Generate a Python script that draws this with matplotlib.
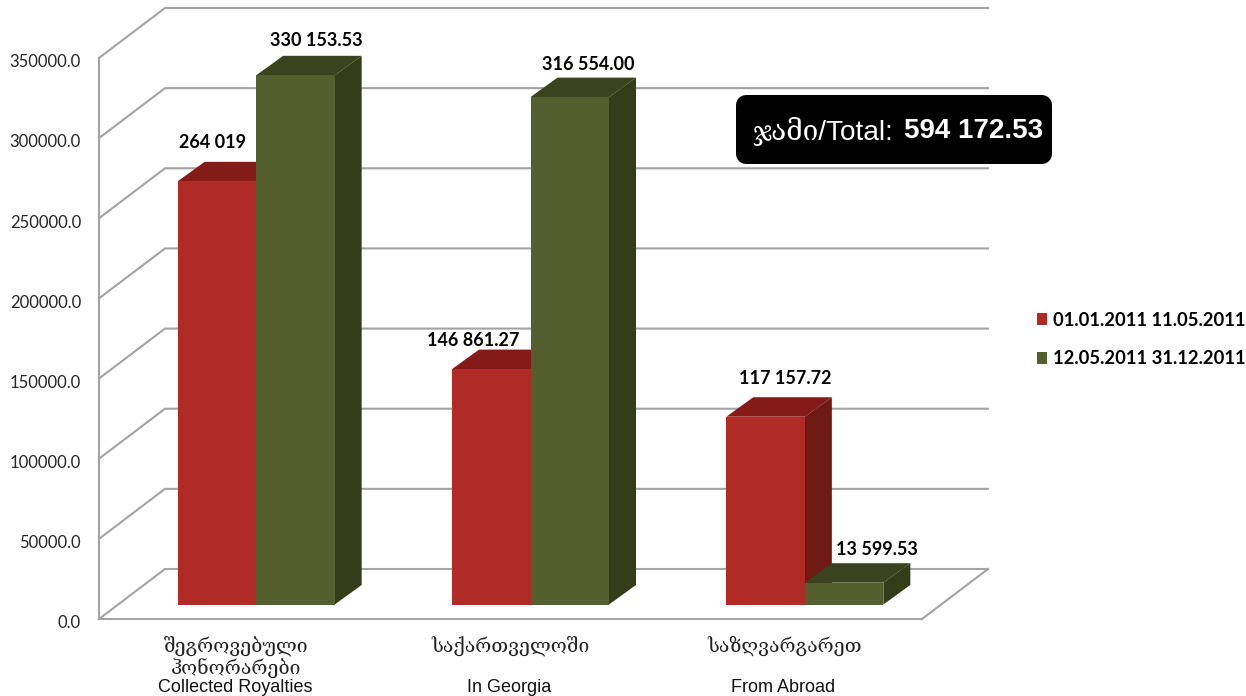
import matplotlib
matplotlib.use('Agg')
import matplotlib.pyplot as plt
from matplotlib.patches import FancyBboxPatch
from matplotlib.transforms import ScaledTranslation

# data
categories_ka = ['შეგროვებული\nჰონორარები', 'საქართველოში', 'საზღვარგარეთ']
categories_en = ['Collected Royalties', 'In Georgia', 'From Abroad']
period1 = [264019, 146861.27, 117157.72]
period2 = [330153.53, 316554.00, 13599.53]
period1_labels = ['264 019', '146 861.27', '117 157.72']
period2_labels = ['330 153.53', '316 554.00', '13 599.53']
series_names = ['01.01.2011 11.05.2011', '12.05.2011 31.12.2011']
yticks = [0, 50000, 100000, 150000, 200000, 250000, 300000, 350000]
total_ka = 'ჯამი/Total:'
total_value = '594 172.53'

W, H = 1246, 696
fig = plt.figure(figsize=(W / 100, H / 100), dpi=100)
ax = fig.add_axes([99 / W, 1 - 619 / H, 823 / W, 561 / H])
ax.set_xlim(-0.5, 2.5)
ax.set_ylim(0, 350000)

# pixel sizes converted to data units
ux = 3 / 823
uy = 350000 / 561
depth_x, depth_y = 66 * ux, 50 * uy      # wall depth
bar_dx, bar_dy = 20 * ux, 14.5 * uy      # bar front plane behind axis plane
bar_px, bar_py = 27 * ux, 19.5 * uy      # bar depth
bw = 78.5 * ux

GRID = '#a3a3a3'
x0, x1 = ax.get_xlim()
for v in yticks:
    ax.plot([x0, x0 + depth_x, x1 + depth_x], [v, v + depth_y, v + depth_y],
            color=GRID, lw=1.5, clip_on=False, zorder=1, solid_joinstyle='miter')
ax.plot([x1, x1 + depth_x], [0, depth_y], color=GRID, lw=1.5, clip_on=False, zorder=1)


def bar3d(left, val, front, top, side, z, name):
    # left = left edge of front face
    b = ax.bar(left, val, width=bw, bottom=bar_dy, align='edge', color=front,
               clip_on=False, zorder=z + 0.2, label=name, linewidth=0)
    yb, yt = bar_dy, bar_dy + val
    r = left + bw
    ax.fill([left, r, r + bar_px, left + bar_px], [yt, yt, yt + bar_py, yt + bar_py],
            color=top, clip_on=False, zorder=z, linewidth=0)
    ax.fill([r, r + bar_px, r + bar_px, r], [yb, yb + bar_py, yt + bar_py, yt],
            color=side, clip_on=False, zorder=z + 0.1, linewidth=0)
    return b


RED = ('#b02a26', '#841b18', '#6f1a12')
GREEN = ('#545e2f', '#3a431d', '#353c1a')
offs1 = [(-4, 39), (-18, 29), (20, 38)]
offs2 = [(20.5, 35), (18.5, 33), (32.5, 33)]
LABEL_FONT = 'Lato'

for i in range(3):
    cx = i + bar_dx
    bar3d(cx - bw, period1[i], *RED, 3 + i * 0.01, series_names[0] if i == 0 else None)
    bar3d(cx, period2[i], *GREEN, 4 + i * 0.01, series_names[1] if i == 0 else None)
    ax.annotate(period1_labels[i], (cx - bw / 2, period1[i] + bar_dy),
                xytext=(offs1[i][0] * 0.72, offs1[i][1] * 0.72), textcoords='offset points',
                ha='center', va='center', fontsize=13, fontweight='bold',
                family=LABEL_FONT, color='#000000', zorder=10, annotation_clip=False)
    ax.annotate(period2_labels[i], (cx + bw / 2, period2[i] + bar_dy),
                xytext=(offs2[i][0] * 0.72, offs2[i][1] * 0.72), textcoords='offset points',
                ha='center', va='center', fontsize=13, fontweight='bold',
                family=LABEL_FONT, color='#000000', zorder=10, annotation_clip=False)

# axes
for s in ['top', 'right']:
    ax.spines[s].set_visible(False)
for s in ['left', 'bottom']:
    ax.spines[s].set_color(GRID)
    ax.spines[s].set_linewidth(1.5)
ax.patch.set_alpha(0)
ax.set_yticks(yticks)
ax.set_yticklabels([f'{v:.1f}' for v in yticks], fontsize=12, family='Lato', color='#262626')
ax.tick_params(axis='y', length=0, pad=13)
ax.set_xticks(range(3))
ax.set_xticklabels([''] * 3)
ax.tick_params(axis='x', length=0)
for lab in ax.get_yticklabels():
    lab.set_transform(lab.get_transform() + ScaledTranslation(0, -2 / 72, fig.dpi_scale_trans))

# category labels, georgian then english
for i in range(3):
    ax.annotate(categories_ka[i], (i, 0), xytext=(0, -12), textcoords='offset points',
                ha='center', va='top', fontsize=14, family='DejaVu Serif', color='#222222',
                linespacing=1.2, annotation_clip=False)
    ax.annotate(categories_en[i], (i, 0), xytext=(-1, -49.5), textcoords='offset points',
                ha='center', va='center', fontsize=13, family='Liberation Sans', color='#111111',
                annotation_clip=False)

# total box
box = FancyBboxPatch((746 / W, 1 - 154 / H), 296 / W, 49 / H,
                     boxstyle='round,pad=0,rounding_size=0', transform=fig.transFigure,
                     facecolor='black', edgecolor='black', linewidth=14.4, joinstyle='round',
                     zorder=20, clip_on=False)
fig.add_artist(box)
fig.text(752 / W, 1 - 131 / H, total_ka, color='white', fontsize=20.2, va='center', ha='left',
         family=['Liberation Sans', 'DejaVu Serif'], zorder=21)
fig.text(1043 / W, 1 - 131 / H, total_value, color='white', fontsize=20, va='center', ha='right',
         family='Liberation Sans', fontweight='bold', zorder=21)

# legend
handles, labels = ax.get_legend_handles_labels()
fig.legend(handles, labels, loc='center left', bbox_to_anchor=(1037 / W, 1 - 339.5 / H),
           frameon=False, handlelength=0.55, handleheight=0.55, handletextpad=0.3,
           labelspacing=1.2, borderpad=0, borderaxespad=0,
           prop={'family': 'Lato', 'weight': 'bold', 'size': 13.2})

fig.savefig('out.png', dpi=100)
